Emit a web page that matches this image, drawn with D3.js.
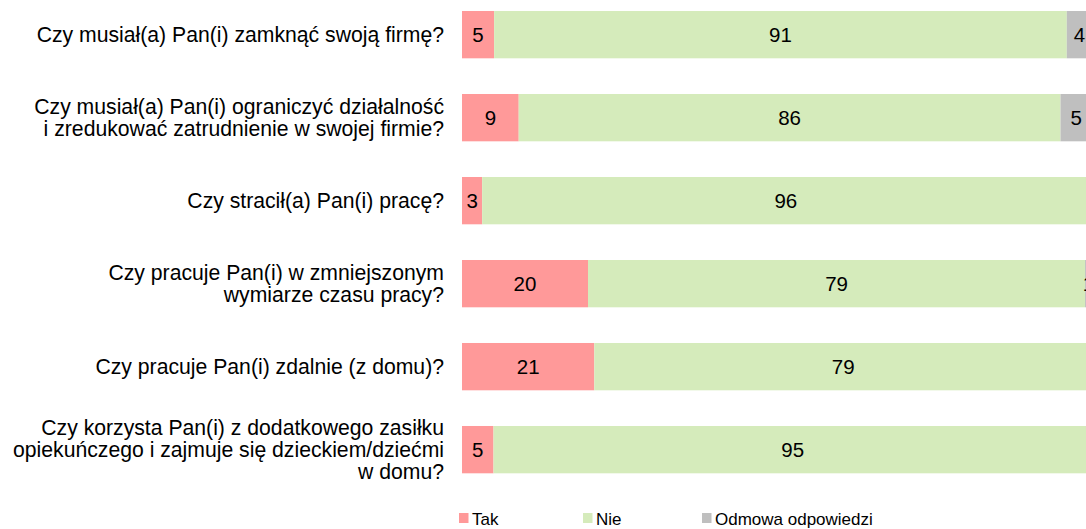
<!DOCTYPE html>
<html><head><meta charset="utf-8">
<script src="https://cdn.jsdelivr.net/npm/d3@7"></script>
<style>
html,body{margin:0;padding:0;background:#fff;overflow:hidden;}
svg{display:block;font-family:"Liberation Sans",Arial,sans-serif;}
</style></head>
<body>
<svg id="chart" width="1086" height="529"></svg>
<script>
const categories = [
  ["Czy musiał(a) Pan(i) zamknąć swoją firmę?"],
  ["Czy musiał(a) Pan(i) ograniczyć działalność", "i zredukować zatrudnienie w swojej firmie?"],
  ["Czy stracił(a) Pan(i) pracę?"],
  ["Czy pracuje Pan(i) w zmniejszonym", "wymiarze czasu pracy?"],
  ["Czy pracuje Pan(i) zdalnie (z domu)?"],
  ["Czy korzysta Pan(i) z dodatkowego zasiłku", "opiekuńczego i zajmuje się dzieckiem/dziećmi", "w domu?"]
];
const seriesNames = ["Tak", "Nie", "Odmowa odpowiedzi"];
const tak  = [5.1, 9.0, 3.2, 20.0, 21.0, 5.0];
const nie  = [90.9, 86.0, 96.4, 78.9, 79.0, 95.0];
const odm  = [4.0, 5.0, 0.4, 1.1, 0, 0];
const colors = ["#FF9999", "#D5EBBB", "#BFBFBF"];

const svg = d3.select("#chart");
const rows = categories.map((c, i) => ({i, Tak: tak[i], Nie: nie[i], "Odmowa odpowiedzi": odm[i]}));
const keys = seriesNames;
const stack = d3.stack().keys(keys)(rows);

const x = d3.scaleLinear().domain([0, 100]).range([462, 1092]);
const y = d3.scaleBand().domain(d3.range(categories.length)).range([11, 473.3]).paddingInner(0.43).paddingOuter(0);
const color = d3.scaleOrdinal().domain(keys).range(colors);

const g = svg.append("g");
stack.forEach(layer => {
  const lg = g.append("g").attr("fill", color(layer.key));
  lg.selectAll("rect").data(layer).join("rect")
    .attr("x", d => x(d[0]))
    .attr("y", d => y(d.data.i))
    .attr("width", d => x(d[1]) - x(d[0]))
    .attr("height", y.bandwidth());
});
stack.forEach(layer => {
  g.append("g").selectAll("text").data(layer.filter(d => Math.round(d[1] - d[0]) >= 1)).join("text")
    .attr("x", d => (x(d[0]) + x(d[1])) / 2)
    .attr("y", d => y(d.data.i) + y.bandwidth() / 2)
    .attr("text-anchor", "middle")
    .attr("dominant-baseline", "central")
    .attr("font-size", 20.5)
    .attr("fill", "#000")
    .text(d => Math.round(d[1] - d[0]));
});

// category labels
const lineH = 22;
const cat = svg.append("g");
categories.forEach((lines, i) => {
  const cy = y(i) + y.bandwidth() / 2;
  const t = cat.append("text").attr("text-anchor", "end").attr("font-size", 21.2).attr("fill", "#000");
  lines.forEach((ln, j) => {
    t.append("tspan").attr("x", 444)
      .attr("y", cy + (j - (lines.length - 1) / 2) * lineH)
      .attr("dominant-baseline", "central")
      .text(ln);
  });
});

// legend
const legX = [459, 583, 702];
const leg = svg.append("g");
keys.forEach((k, i) => {
  leg.append("rect").attr("x", legX[i]).attr("y", 513).attr("width", 9.5).attr("height", 10).attr("fill", color(k));
  leg.append("text").attr("x", legX[i] + 13).attr("y", 519).attr("dominant-baseline", "central")
    .attr("font-size", 17).attr("fill", "#000").text(k);
});
</script>
</body></html>
